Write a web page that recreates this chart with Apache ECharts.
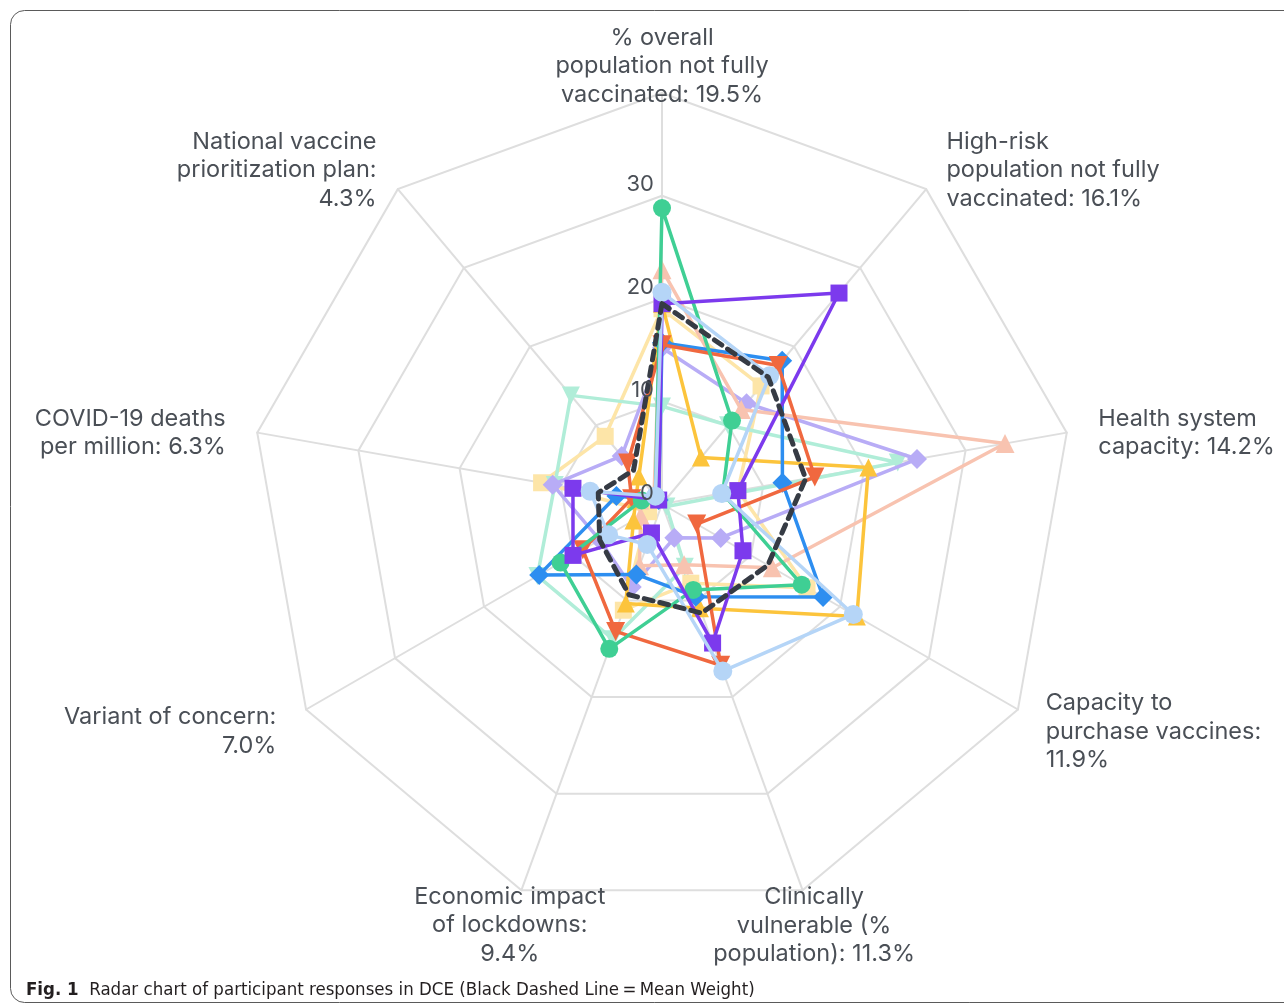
<!DOCTYPE html>
<html>
<head>
<meta charset="utf-8">
<script src="https://cdn.jsdelivr.net/npm/echarts@6/dist/echarts.min.js"></script>
<style>
html,body{margin:0;padding:0;background:#fff;}
#chart{width:1284px;height:1008px;}
</style>
</head>
<body>
<div id="chart"></div>
<script>
// Axis names, clockwise from the top
const axisNames = [
  '% overall\npopulation not fully\nvaccinated: 19.5%',
  'High-risk\npopulation not fully\nvaccinated: 16.1%',
  'Health system\ncapacity: 14.2%',
  'Capacity to\npurchase vaccines:\n11.9%',
  'Clinically\nvulnerable (%\npopulation): 11.3%',
  'Economic impact\nof lockdowns:\n9.4%',
  'Variant of concern:\n7.0%',
  'COVID-19 deaths\nper million: 6.3%',
  'National vaccine\nprioritization plan:\n4.3%'
];
const radialTicks = [0, 10, 20, 30];
const radialMax = 40;

// Participant weights (clockwise order, same as axisNames)
const greenVals       = [28.8, 10.6, 6.0, 15.7, 8.9, 15.0, 11.4, 2.0, 1.0];
const purpleVals      = [19.5, 26.8, 7.5, 9.1, 14.4, 3.0, 10.0, 8.8, 0.5];
const salmonVals      = [22.8, 12.0, 33.9, 12.4, 6.3, 6.4, 2.4, 2.2, 1.2];
const lightBlueVals   = [20.6, 16.3, 5.9, 21.5, 17.3, 4.2, 6.0, 7.1, 1.0];
const orangeVals      = [15.5, 17.6, 15.1, 3.9, 16.7, 13.2, 8.9, 3.0, 5.2];
const yellowVals      = [19.5, 5.9, 20.4, 21.9, 10.8, 10.3, 3.2, 2.6, 3.5];
const blueVals        = [15.7, 18.2, 11.9, 18.1, 9.6, 7.3, 13.8, 4.5, 0.5];
const lavenderVals    = [15.2, 12.8, 25.2, 6.6, 3.5, 8.6, 7.0, 10.8, 6.1];
const mintVals        = [9.5, 10.0, 23.3, 0.5, 6.5, 14.0, 14.0, 10.6, 13.8];
const lightYellowVals = [19.0, 15.0, 7.5, 16.3, 8.2, 11.0, 1.5, 11.9, 8.6];
const meanVals        = [19.5, 16.1, 14.2, 11.9, 11.3, 9.4, 7.0, 6.3, 4.3];

// ECharts radar places indicators counter-clockwise; map clockwise reading order
const ccwOrder = [0, 8, 7, 6, 5, 4, 3, 2, 1];
const toCcw = arr => ccwOrder.map(i => arr[i]);

const nameAlign   = ['center','left','left','left','center','center','right','right','right'];
const nameGaps    = [27, 30, 32, 32, 38, 37, 32, 32, 30];
const namePadding = [
  [0,0,0,0], [0,0,0,1], [0,0,0,0], [0,0,0,0],
  [0,3,0,0], [0,0,0,2], [0,2,0,0], [0,0,0,0], [0,2,0,0]
];
// extra top space (px) that nudges a centred label block downward
const nameSpacer  = [0, 8, 12, 12, 0, 0, 12, 12, 8];

const gridColor = '#dedede';
const textColor = '#4a4f56';
const FONT = 'Inter, "Noto Sans", sans-serif';
const CAPFONT = '"Liberation Sans Narrow", "DejaVu Sans Condensed", sans-serif';

const indicators = ccwOrder.map(i => ({
  name: (nameSpacer[i] ? '{sp' + nameSpacer[i] + '|\u200b}\n' : '') + axisNames[i],
  min: 0,
  max: radialMax,
  nameGap: nameGaps[i],
  nameTextStyle: { align: nameAlign[i], verticalAlign: 'middle', padding: namePadding[i] }
}));

// Second (overlay) radar that only carries the radial tick labels above the lines
const labelIndicators = ccwOrder.map((i, k) => {
  const ind = { name: '', min: 0, max: radialMax };
  if (k === 0) {
    ind.axisLabel = {
      show: true,
      color: textColor,
      fontSize: 22,
      fontFamily: FONT,
      verticalAlign: 'bottom',
      formatter: v => (radialTicks.indexOf(v) >= 0 ? String(v) : '')
    };
  }
  return ind;
});

const seriesDefs = [
  { vals: lightYellowVals, color: '#fde5a8', symbol: 'rect', size: 17, rot: 0 },
  { vals: mintVals,        color: '#b0edd8', symbol: 'triangle', size: 18, rot: 180 },
  { vals: lavenderVals,    color: '#b8acf6', symbol: 'diamond', size: 20, rot: 0 },
  { vals: salmonVals,      color: '#f8c3b0', symbol: 'triangle', size: 19, rot: 0 },
  { vals: yellowVals,      color: '#fcc43c', symbol: 'triangle', size: 18, rot: 0 },
  { vals: blueVals,        color: '#2d8ef0', symbol: 'diamond', size: 20, rot: 0 },
  { vals: orangeVals,      color: '#f0683f', symbol: 'triangle', size: 19, rot: 180 },
  { vals: greenVals,       color: '#3fcf94', symbol: 'circle', size: 18, rot: 0 },
  { vals: purpleVals,      color: '#7c3aed', symbol: 'rect', size: 17, rot: 0 },
  { vals: lightBlueVals,   color: '#b5d5f7', symbol: 'circle', size: 19, rot: 0 }
];

const series = seriesDefs.map((d, k) => ({
  type: 'radar',
  radarIndex: 0,
  z: 2 + k * 0.01,
  symbol: d.symbol,
  symbolSize: d.size,
  symbolRotate: d.rot,
  itemStyle: { color: d.color },
  lineStyle: { color: d.color, width: 3.5 },
  data: [{ value: toCcw(d.vals) }]
}));
series.push({
  type: 'radar',
  radarIndex: 0,
  z: 3,
  symbol: 'none',
  lineStyle: { color: '#363b44', width: 5, type: [9, 7], cap: 'round' },
  data: [{ value: toCcw(meanVals) }]
});

const chart = echarts.init(document.getElementById('chart'), null, { renderer: 'canvas' });
chart.setOption({
  backgroundColor: '#ffffff',
  animation: false,
  title: {
    text: '{b|Fig. 1}  Radar chart of participant responses in DCE (Black Dashed Line\u2009=\u2009Mean Weight)',
    left: 21,
    top: 976,
    textStyle: {
      fontSize: 18.5,
      fontWeight: 'normal',
      color: '#231f20',
      fontFamily: CAPFONT,
      rich: {
        b: { fontSize: 18.5, fontWeight: 'bold', color: '#231f20', fontFamily: CAPFONT }
      }
    }
  },
  graphic: [{
    type: 'rect',
    silent: true,
    shape: { x: 10.5, y: 10.5, width: 1320, height: 992, r: 14 },
    style: { fill: 'none', stroke: '#5a5a5a', lineWidth: 1 },
    z: -1
  }],
  radar: [{
    center: [662, 504],
    radius: 411,
    startAngle: 90,
    shape: 'polygon',
    splitNumber: 4,
    nameGap: 30,
    indicator: indicators,
    axisName: {
      color: textColor,
      fontSize: 23.5,
      lineHeight: 28.5,
      fontFamily: FONT,
      rich: {
        sp8:  { lineHeight: 8,  fontSize: 1 },
        sp12: { lineHeight: 12, fontSize: 1 }
      }
    },
    splitLine: { lineStyle: { color: gridColor, width: 2 } },
    splitArea: { show: false },
    axisLine: { lineStyle: { color: gridColor, width: 2 } },
    axisTick: { show: false },
    axisLabel: { show: false }
  }, {
    center: [662, 504],
    radius: 411,
    startAngle: 90,
    shape: 'polygon',
    splitNumber: 4,
    z: 20,
    indicator: labelIndicators,
    axisName: { show: false },
    splitLine: { show: false },
    splitArea: { show: false },
    axisLine: { show: false },
    axisTick: { show: false },
    axisLabel: { show: false }
  }],
  series: series
});
</script>
</body>
</html>
